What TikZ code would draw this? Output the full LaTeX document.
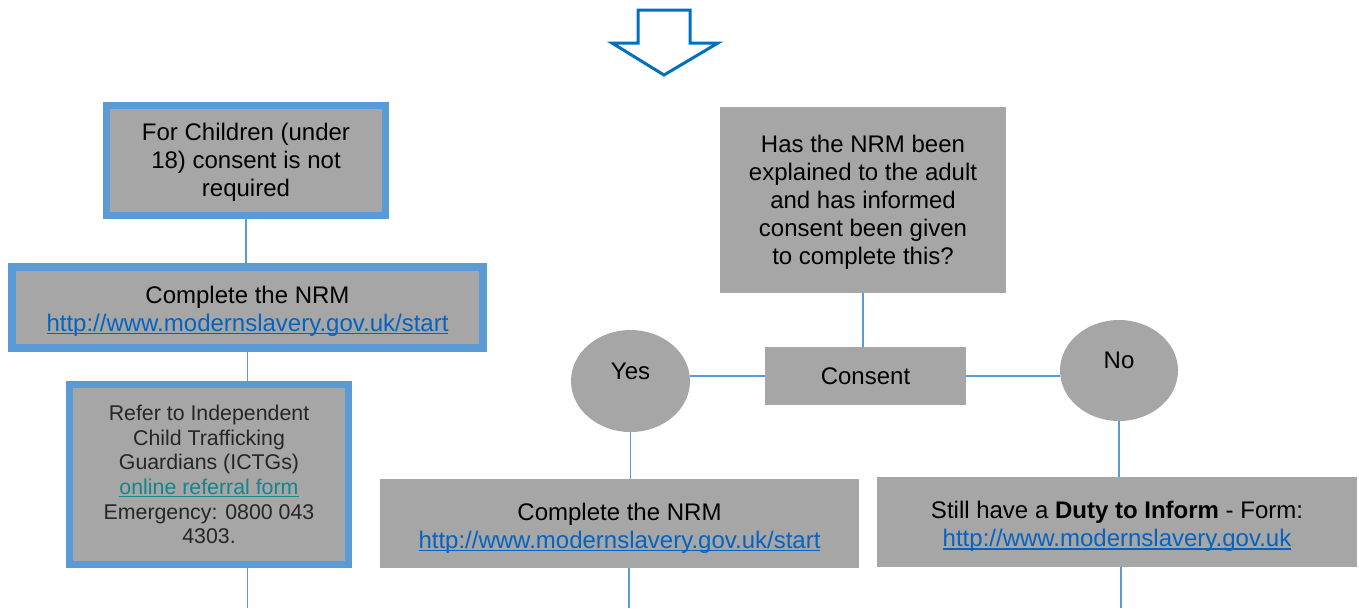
\documentclass[tikz,border=0pt]{standalone}
\usepackage{fontspec}
\setmainfont{Liberation Sans}
\usetikzlibrary{shapes.geometric}
\definecolor{bordblue}{HTML}{5B9BD5}
\definecolor{boxgray}{HTML}{A6A6A6}
\definecolor{linkblue}{HTML}{0563C1}
\definecolor{linkteal}{HTML}{12868C}
\definecolor{arrowblue}{HTML}{0070C0}
\newcommand{\bigtxt}{\fontsize{18}{21}\selectfont}
\newcommand{\smalltxt}{\fontsize{16}{18.5}\selectfont}
\newcommand{\ulink}[2]{{\color{#1}\setbox0\hbox{#2}\rlap{\rule[-2pt]{\wd0}{0.9pt}}\box0}}
\newcommand{\lnk}[1]{\ulink{linkblue}{#1}}
\newcommand{\dn}[2]{\raisebox{-#1}[\height][\depth]{\begin{tabular}{@{}c@{}}#2\end{tabular}}}
\begin{document}
\begin{tikzpicture}[x=0.75pt,y=-0.75pt,
  graybox/.style={rectangle,fill=boxgray,inner sep=0pt,align=center,font=\bigtxt},
  bluebox/.style={graybox,draw=bordblue},
  oval/.style={ellipse,fill=boxgray,inner sep=0pt},
  conn/.style={draw=bordblue,line width=1.1pt}]
\useasboundingbox (0,0) rectangle (1359,608);
% top arrow
\draw[arrowblue,line width=2.25pt,fill=white,line join=miter]
  (638,10) -- (690,10) -- (690,43) -- (718,43) -- (664,75) -- (612,43) -- (638,43) -- cycle;
% left column
\node[bluebox,line width=5.25pt,minimum width=209.25pt,minimum height=82.5pt] (child) at (246,160.5)
  {\dn{2pt}{For Children (under\\18) consent is not\\required}};
\node[bluebox,line width=6pt,minimum width=353.25pt,minimum height=60.75pt] (nrm1) at (247.5,307.5)
  {\dn{3.5pt}{Complete the NRM\\\lnk{http://www.modernslavery.gov.uk/start}}};
\node[bluebox,line width=5.25pt,minimum width=209.25pt,minimum height=135pt,font=\smalltxt,text=black!85] (ictg) at (209,474.5)
  {Refer to Independent\\Child Trafficking\\Guardians (ICTGs)\\\ulink{linkteal}{online referral form}\\Emergency: 0800 043\\4303.};
\coordinate (leftend) at (247.5,608);
% right part
\node[graybox,minimum width=214.5pt,minimum height=139.5pt] (q) at (863,200)
  {\dn{2pt}{Has the NRM been\\explained to the adult\\and has informed\\consent been given\\to complete this?}};
\node[graybox,minimum width=150.75pt,minimum height=43.5pt] (consent) at (865.5,376) {Consent};
\node[oval,minimum width=89.25pt,minimum height=76.5pt,label={[font=\bigtxt,yshift=7.5pt]center:Yes}] (yes) at (630.5,381) {};
\node[oval,minimum width=88.5pt,minimum height=75.75pt,label={[font=\bigtxt,yshift=7.9pt]center:No}] (no) at (1119,370.5) {};
\node[graybox,minimum width=359.25pt,minimum height=66.75pt] (nrm2) at (619.5,523.5)
  {\dn{4pt}{Complete the NRM\\\lnk{http://www.modernslavery.gov.uk/start}}};
\node[graybox,minimum width=360pt,minimum height=67.5pt] (duty) at (1117,522)
  {\dn{4pt}{Still have a \textbf{Duty to Inform} - Form:\\\lnk{http://www.modernslavery.gov.uk}}};
\coordinate (midend) at (629,608);
\coordinate (rightend) at (1121,608);
% connectors
\draw[conn] (child.south) -- (child.south |- nrm1.north);
\draw[conn] (nrm1.south) -- (nrm1.south |- ictg.north);
\draw[conn] (nrm1.south |- ictg.south) -- (leftend);
\draw[conn] (q.south) -- (q.south |- consent.north);
\draw[conn] (consent.west) -- (consent.west -| yes.east);
\draw[conn] (consent.east) -- (consent.east -| no.west);
\draw[conn] (yes.south) -- (yes.south |- nrm2.north);
\draw[conn] (midend |- nrm2.south) -- (midend);
\draw[conn] (no.south) -- (no.south |- duty.north);
\draw[conn] (rightend |- duty.south) -- (rightend);
\end{tikzpicture}
\end{document}
